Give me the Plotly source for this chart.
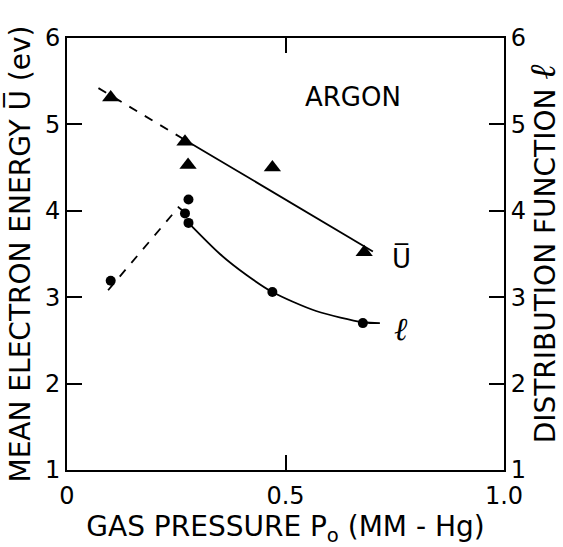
import plotly.graph_objects as go

# Mean electron energy U (ev), argon
u_pressure = [0.10, 0.27, 0.277, 0.47, 0.68]
u_energy = [5.31, 4.80, 4.53, 4.50, 3.52]

# Distribution function l
l_pressure = [0.10, 0.278, 0.27, 0.278, 0.47, 0.677]
l_value = [3.19, 4.13, 3.97, 3.86, 3.06, 2.70]

# Fitted lines drawn through the data
u_fit_dash_x = [0.072, 0.27]
u_fit_dash_y = [5.42, 4.82]
u_fit_solid_x = [0.27, 0.70]
u_fit_solid_y = [4.82, 3.53]

l_fit_dash_x = [0.094, 0.255, 0.265]
l_fit_dash_y = [3.08, 4.04, 4.00]
l_fit_solid_x = [0.278, 0.35, 0.41, 0.47, 0.57, 0.677, 0.716]
l_fit_solid_y = [3.86, 3.50, 3.26, 3.06, 2.84, 2.71, 2.70]

x_ticks = [0, 0.5, 1.0]
x_tick_text = ["0", "0.5", "1.0"]
y_ticks = [1, 2, 3, 4, 5, 6]

FONT = "DejaVu Sans"
INK = "black"

fig = go.Figure()

line_style = dict(color=INK, width=1.8)
fig.add_trace(go.Scatter(x=u_fit_dash_x, y=u_fit_dash_y, mode="lines",
                         line=dict(line_style, dash="dash"), showlegend=False))
fig.add_trace(go.Scatter(x=u_fit_solid_x, y=u_fit_solid_y, mode="lines",
                         line=line_style, showlegend=False))
fig.add_trace(go.Scatter(x=l_fit_dash_x, y=l_fit_dash_y, mode="lines",
                         line=dict(line_style, dash="dash"), showlegend=False))
fig.add_trace(go.Scatter(x=l_fit_solid_x, y=l_fit_solid_y, mode="lines",
                         line=dict(line_style, shape="spline", smoothing=0.8),
                         showlegend=False))

fig.add_trace(go.Scatter(x=u_pressure, y=u_energy, mode="markers",
                         marker=dict(symbol="triangle-up", size=15, color=INK),
                         showlegend=False))
fig.add_trace(go.Scatter(x=l_pressure, y=l_value, mode="markers", yaxis="y2",
                         marker=dict(symbol="circle", size=10, color=INK),
                         showlegend=False))

axis_common = dict(
    showline=True, linecolor=INK, linewidth=2,
    ticks="inside", ticklen=15, tickwidth=1.6, tickcolor=INK,
    showgrid=False, zeroline=False, automargin=False,
    tickfont=dict(family=FONT, size=24, color=INK),
)

fig.update_layout(
    width=563, height=547,
    margin=dict(l=67, r=59, t=38, b=77),
    paper_bgcolor="white", plot_bgcolor="white",
    xaxis=dict(axis_common, range=[0, 1.0], tickvals=x_ticks, ticktext=x_tick_text,
               mirror="ticks", ticklabelstandoff=3,
               title=dict(text="GAS PRESSURE P<sub>o</sub> (MM - Hg)",
                          font=dict(family=FONT, size=28, color=INK), standoff=18)),
    yaxis=dict(axis_common, range=[1, 6], tickvals=y_ticks,
               title=dict(text="MEAN ELECTRON ENERGY U\u0305 (ev)",
                          font=dict(family=FONT, size=28, color=INK), standoff=6)),
    yaxis2=dict(axis_common, range=[1, 6], tickvals=y_ticks, overlaying="y", side="right",
                title=dict(text="DISTRIBUTION FUNCTION "
                                "<span style='font-family:DejaVu Serif;font-size:36px'>"
                                "<i>\u2113</i></span>",
                           font=dict(family=FONT, size=28, color=INK), standoff=12)),
    annotations=[
        dict(x=0.655, y=5.32, xref="x", yref="y", text="ARGON", showarrow=False,
             font=dict(family=FONT, size=26, color=INK)),
        dict(x=0.765, y=3.45, xref="x", yref="y", text="U\u0305", showarrow=False,
             font=dict(family=FONT, size=26, color=INK)),
        dict(x=0.765, y=2.63, xref="x", yref="y", text="<i>\u2113</i>", showarrow=False,
             font=dict(family="DejaVu Serif", size=32, color=INK)),
    ],
)

fig.write_html("out.html")
